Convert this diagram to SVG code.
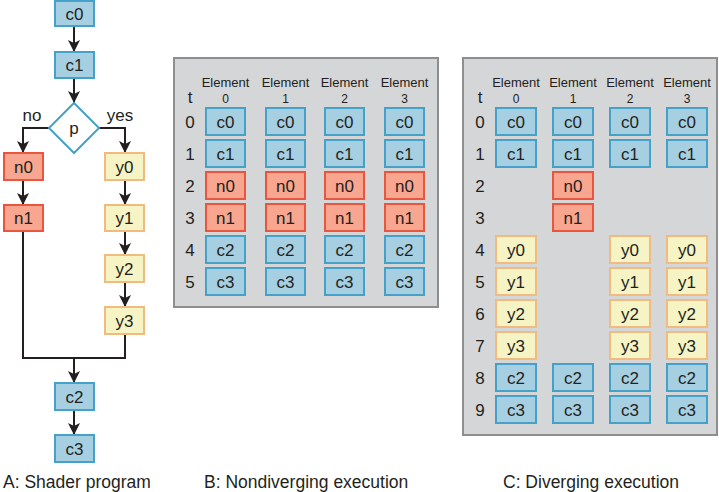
<svg xmlns="http://www.w3.org/2000/svg" width="719" height="492" viewBox="0 0 719 492">
<style>
.b{fill:#a7cfe2;stroke:#45a1c8;stroke-width:2}
.r{fill:#f8a68f;stroke:#e9553d;stroke-width:2}
.y{fill:#f6f4c4;stroke:#f1bb80;stroke-width:2}
.d{fill:#ffffff;stroke:#45a1c8;stroke-width:2}
text{font-family:"Liberation Sans",Arial,Helvetica,sans-serif;fill:#231f20}
.t{font-size:17px;text-anchor:middle}
.hd{font-size:13px;text-anchor:middle}
.hn{font-size:12px;text-anchor:middle}
.cap{font-size:17.5px}
.panel{fill:#d5d6d8;stroke:#8e8e8e;stroke-width:2}
.cn{fill:none;stroke:#231f20;stroke-width:2}
</style>
<defs>
<marker id="ah" markerUnits="userSpaceOnUse" markerWidth="12" markerHeight="12" viewBox="0 0 12 12" refX="12" refY="6" orient="auto">
<path d="M0,0 L12,6 L0,12 L3,6 z" fill="#231f20"/>
</marker>
</defs>

<!-- Panel A connectors -->
<g id="connectors">
<line class="cn" x1="74" y1="26" x2="74" y2="52" marker-end="url(#ah)"/>
<line class="cn" x1="74" y1="78" x2="74" y2="103" marker-end="url(#ah)"/>
<polyline class="cn" points="49,128 23,128 23,153" marker-end="url(#ah)"/>
<polyline class="cn" points="99,128 125,128 125,153" marker-end="url(#ah)"/>
<line class="cn" x1="23" y1="180" x2="23" y2="205" marker-end="url(#ah)"/>
<line class="cn" x1="125" y1="180" x2="125" y2="205" marker-end="url(#ah)"/>
<line class="cn" x1="125" y1="231" x2="125" y2="255" marker-end="url(#ah)"/>
<line class="cn" x1="125" y1="282" x2="125" y2="307" marker-end="url(#ah)"/>
<polyline class="cn" points="23,231 23,358 125,358 125,334"/>
<line class="cn" x1="74" y1="358" x2="74" y2="383" marker-end="url(#ah)"/>
<line class="cn" x1="74" y1="410" x2="74" y2="435" marker-end="url(#ah)"/>
<text class="t" x="32" y="121">no</text>
<text class="t" x="120" y="121">yes</text>
</g>

<!-- Panel A nodes -->
<g id="a-c0"><rect class="b" x="55" y="1" width="39" height="25"/><text class="t" x="74.5" y="19.5">c0</text></g>
<g id="a-c1"><rect class="b" x="55" y="52" width="39" height="26"/><text class="t" x="74.5" y="71">c1</text></g>
<g id="a-p"><polygon class="d" points="74,103 99,128 74,153 49,128"/><text class="t" x="74" y="134">p</text></g>
<g id="a-n0"><rect class="r" x="4" y="153" width="39" height="27"/><text class="t" x="23.5" y="173">n0</text></g>
<g id="a-n1"><rect class="r" x="4" y="205" width="39" height="26"/><text class="t" x="23.5" y="224">n1</text></g>
<g id="a-y0"><rect class="y" x="105" y="153" width="39" height="27"/><text class="t" x="124.5" y="173">y0</text></g>
<g id="a-y1"><rect class="y" x="105" y="205" width="39" height="26"/><text class="t" x="124.5" y="224">y1</text></g>
<g id="a-y2"><rect class="y" x="105" y="255" width="39" height="27"/><text class="t" x="124.5" y="275">y2</text></g>
<g id="a-y3"><rect class="y" x="105" y="307" width="39" height="27"/><text class="t" x="124.5" y="327">y3</text></g>
<g id="a-c2"><rect class="b" x="55" y="383" width="39" height="27"/><text class="t" x="74.5" y="403">c2</text></g>
<g id="a-c3"><rect class="b" x="55" y="435" width="39" height="27"/><text class="t" x="74.5" y="455">c3</text></g>

<!-- Panel B -->
<g id="panel-b">
<rect class="panel" x="174" y="58" width="264" height="249"/>
<text class="t" x="190" y="103">t</text>
<text class="hd" x="225.5" y="87">Element</text><text class="hn" x="225.5" y="103">0</text>
<text class="hd" x="285.5" y="87">Element</text><text class="hn" x="285.5" y="103">1</text>
<text class="hd" x="344.5" y="87">Element</text><text class="hn" x="344.5" y="103">2</text>
<text class="hd" x="404.5" y="87">Element</text><text class="hn" x="404.5" y="103">3</text>
<text class="t" x="190" y="128">0</text>
<text class="t" x="190" y="160">1</text>
<text class="t" x="190" y="192">2</text>
<text class="t" x="190" y="224">3</text>
<text class="t" x="190" y="256">4</text>
<text class="t" x="190" y="288">5</text>
</g>
<g id="b-r0c0"><rect class="b" x="206" y="108" width="39" height="27"/><text class="t" x="225.5" y="128">c0</text></g>
<g id="b-r0c1"><rect class="b" x="266" y="108" width="39" height="27"/><text class="t" x="285.5" y="128">c0</text></g>
<g id="b-r0c2"><rect class="b" x="325" y="108" width="39" height="27"/><text class="t" x="344.5" y="128">c0</text></g>
<g id="b-r0c3"><rect class="b" x="385" y="108" width="39" height="27"/><text class="t" x="404.5" y="128">c0</text></g>
<g id="b-r1c0"><rect class="b" x="206" y="140" width="39" height="27"/><text class="t" x="225.5" y="160">c1</text></g>
<g id="b-r1c1"><rect class="b" x="266" y="140" width="39" height="27"/><text class="t" x="285.5" y="160">c1</text></g>
<g id="b-r1c2"><rect class="b" x="325" y="140" width="39" height="27"/><text class="t" x="344.5" y="160">c1</text></g>
<g id="b-r1c3"><rect class="b" x="385" y="140" width="39" height="27"/><text class="t" x="404.5" y="160">c1</text></g>
<g id="b-r2c0"><rect class="r" x="206" y="172" width="39" height="27"/><text class="t" x="225.5" y="192">n0</text></g>
<g id="b-r2c1"><rect class="r" x="266" y="172" width="39" height="27"/><text class="t" x="285.5" y="192">n0</text></g>
<g id="b-r2c2"><rect class="r" x="325" y="172" width="39" height="27"/><text class="t" x="344.5" y="192">n0</text></g>
<g id="b-r2c3"><rect class="r" x="385" y="172" width="39" height="27"/><text class="t" x="404.5" y="192">n0</text></g>
<g id="b-r3c0"><rect class="r" x="206" y="204" width="39" height="27"/><text class="t" x="225.5" y="224">n1</text></g>
<g id="b-r3c1"><rect class="r" x="266" y="204" width="39" height="27"/><text class="t" x="285.5" y="224">n1</text></g>
<g id="b-r3c2"><rect class="r" x="325" y="204" width="39" height="27"/><text class="t" x="344.5" y="224">n1</text></g>
<g id="b-r3c3"><rect class="r" x="385" y="204" width="39" height="27"/><text class="t" x="404.5" y="224">n1</text></g>
<g id="b-r4c0"><rect class="b" x="206" y="236" width="39" height="27"/><text class="t" x="225.5" y="256">c2</text></g>
<g id="b-r4c1"><rect class="b" x="266" y="236" width="39" height="27"/><text class="t" x="285.5" y="256">c2</text></g>
<g id="b-r4c2"><rect class="b" x="325" y="236" width="39" height="27"/><text class="t" x="344.5" y="256">c2</text></g>
<g id="b-r4c3"><rect class="b" x="385" y="236" width="39" height="27"/><text class="t" x="404.5" y="256">c2</text></g>
<g id="b-r5c0"><rect class="b" x="206" y="268" width="39" height="27"/><text class="t" x="225.5" y="288">c3</text></g>
<g id="b-r5c1"><rect class="b" x="266" y="268" width="39" height="27"/><text class="t" x="285.5" y="288">c3</text></g>
<g id="b-r5c2"><rect class="b" x="325" y="268" width="39" height="27"/><text class="t" x="344.5" y="288">c3</text></g>
<g id="b-r5c3"><rect class="b" x="385" y="268" width="39" height="27"/><text class="t" x="404.5" y="288">c3</text></g>

<!-- Panel C -->
<g id="panel-c">
<rect class="panel" x="463" y="58" width="254" height="377"/>
<text class="t" x="480" y="103">t</text>
<text class="hd" x="516" y="87">Element</text><text class="hn" x="516" y="103">0</text>
<text class="hd" x="573" y="87">Element</text><text class="hn" x="573" y="103">1</text>
<text class="hd" x="630" y="87">Element</text><text class="hn" x="630" y="103">2</text>
<text class="hd" x="687" y="87">Element</text><text class="hn" x="687" y="103">3</text>
<text class="t" x="480" y="128">0</text>
<text class="t" x="480" y="160">1</text>
<text class="t" x="480" y="192">2</text>
<text class="t" x="480" y="224">3</text>
<text class="t" x="480" y="256">4</text>
<text class="t" x="480" y="288">5</text>
<text class="t" x="480" y="320">6</text>
<text class="t" x="480" y="352">7</text>
<text class="t" x="480" y="384">8</text>
<text class="t" x="480" y="416">9</text>
</g>
<g id="c-r0c0"><rect class="b" x="496" y="108" width="40" height="27"/><text class="t" x="516" y="128">c0</text></g>
<g id="c-r0c1"><rect class="b" x="553" y="108" width="40" height="27"/><text class="t" x="573" y="128">c0</text></g>
<g id="c-r0c2"><rect class="b" x="610" y="108" width="40" height="27"/><text class="t" x="630" y="128">c0</text></g>
<g id="c-r0c3"><rect class="b" x="667" y="108" width="40" height="27"/><text class="t" x="687" y="128">c0</text></g>
<g id="c-r1c0"><rect class="b" x="496" y="140" width="40" height="27"/><text class="t" x="516" y="160">c1</text></g>
<g id="c-r1c1"><rect class="b" x="553" y="140" width="40" height="27"/><text class="t" x="573" y="160">c1</text></g>
<g id="c-r1c2"><rect class="b" x="610" y="140" width="40" height="27"/><text class="t" x="630" y="160">c1</text></g>
<g id="c-r1c3"><rect class="b" x="667" y="140" width="40" height="27"/><text class="t" x="687" y="160">c1</text></g>
<g id="c-r2c1"><rect class="r" x="553" y="172" width="40" height="27"/><text class="t" x="573" y="192">n0</text></g>
<g id="c-r3c1"><rect class="r" x="553" y="204" width="40" height="27"/><text class="t" x="573" y="224">n1</text></g>
<g id="c-r4c0"><rect class="y" x="496" y="236" width="40" height="27"/><text class="t" x="516" y="256">y0</text></g>
<g id="c-r4c2"><rect class="y" x="610" y="236" width="40" height="27"/><text class="t" x="630" y="256">y0</text></g>
<g id="c-r4c3"><rect class="y" x="667" y="236" width="40" height="27"/><text class="t" x="687" y="256">y0</text></g>
<g id="c-r5c0"><rect class="y" x="496" y="268" width="40" height="27"/><text class="t" x="516" y="288">y1</text></g>
<g id="c-r5c2"><rect class="y" x="610" y="268" width="40" height="27"/><text class="t" x="630" y="288">y1</text></g>
<g id="c-r5c3"><rect class="y" x="667" y="268" width="40" height="27"/><text class="t" x="687" y="288">y1</text></g>
<g id="c-r6c0"><rect class="y" x="496" y="300" width="40" height="27"/><text class="t" x="516" y="320">y2</text></g>
<g id="c-r6c2"><rect class="y" x="610" y="300" width="40" height="27"/><text class="t" x="630" y="320">y2</text></g>
<g id="c-r6c3"><rect class="y" x="667" y="300" width="40" height="27"/><text class="t" x="687" y="320">y2</text></g>
<g id="c-r7c0"><rect class="y" x="496" y="332" width="40" height="27"/><text class="t" x="516" y="352">y3</text></g>
<g id="c-r7c2"><rect class="y" x="610" y="332" width="40" height="27"/><text class="t" x="630" y="352">y3</text></g>
<g id="c-r7c3"><rect class="y" x="667" y="332" width="40" height="27"/><text class="t" x="687" y="352">y3</text></g>
<g id="c-r8c0"><rect class="b" x="496" y="364" width="40" height="27"/><text class="t" x="516" y="384">c2</text></g>
<g id="c-r8c1"><rect class="b" x="553" y="364" width="40" height="27"/><text class="t" x="573" y="384">c2</text></g>
<g id="c-r8c2"><rect class="b" x="610" y="364" width="40" height="27"/><text class="t" x="630" y="384">c2</text></g>
<g id="c-r8c3"><rect class="b" x="667" y="364" width="40" height="27"/><text class="t" x="687" y="384">c2</text></g>
<g id="c-r9c0"><rect class="b" x="496" y="396" width="40" height="27"/><text class="t" x="516" y="416">c3</text></g>
<g id="c-r9c1"><rect class="b" x="553" y="396" width="40" height="27"/><text class="t" x="573" y="416">c3</text></g>
<g id="c-r9c2"><rect class="b" x="610" y="396" width="40" height="27"/><text class="t" x="630" y="416">c3</text></g>
<g id="c-r9c3"><rect class="b" x="667" y="396" width="40" height="27"/><text class="t" x="687" y="416">c3</text></g>

<!-- Captions -->
<g id="captions">
<text class="cap" x="3" y="488">A: Shader program</text>
<text class="cap" x="204" y="488">B: Nondiverging execution</text>
<text class="cap" x="503" y="488">C: Diverging execution</text>
</g>
</svg>
